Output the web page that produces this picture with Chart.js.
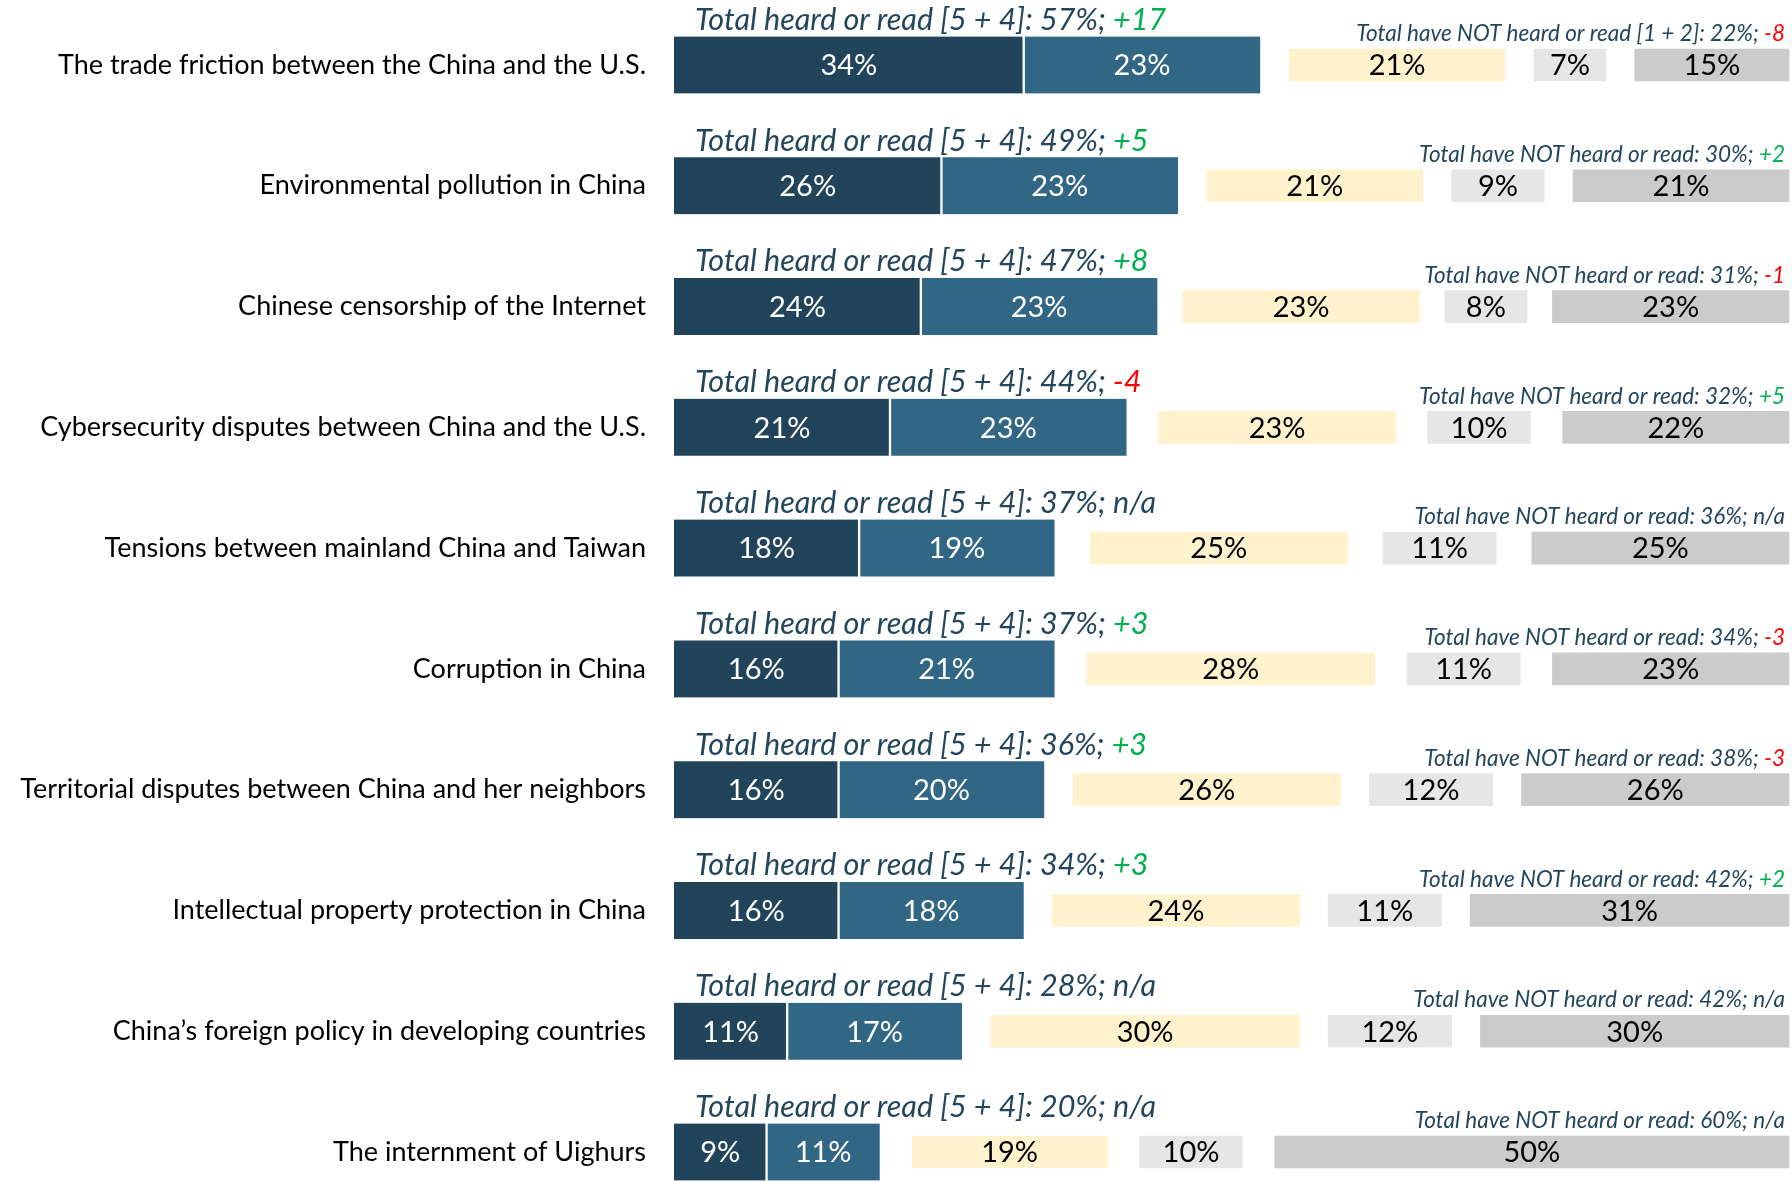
<!DOCTYPE html>
<html>
<head>
<meta charset="utf-8">
<script src="https://cdn.jsdelivr.net/npm/chart.js@4.4.0/dist/chart.umd.min.js"></script>
<style>
  html, body { margin: 0; padding: 0; background: #fff; }
  #wrap { width: 1792px; height: 1182px; }
</style>
</head>
<body>
<div id="wrap"><canvas id="chart" width="1792" height="1182"></canvas></div>
<script>
/* ---- data ---- */
const categories = [
  'The trade friction between the China and the U.S.',
  'Environmental pollution in China',
  'Chinese censorship of the Internet',
  'Cybersecurity disputes between China and the U.S.',
  'Tensions between mainland China and Taiwan',
  'Corruption in China',
  'Territorial disputes between China and her neighbors',
  'Intellectual property protection in China',
  'China\u2019s foreign policy in developing countries',
  'The internment of Uighurs',
];
const heard5    = [34, 26, 24, 21, 18, 16, 16, 16, 11, 9];
const heard4    = [23, 23, 23, 23, 19, 21, 20, 18, 17, 11];
const neutral3  = [21, 21, 23, 23, 25, 28, 26, 24, 30, 19];
const notHeard2 = [7, 9, 8, 10, 11, 11, 12, 11, 12, 10];
const notHeard1 = [15, 21, 23, 22, 25, 23, 26, 31, 30, 50];

const heardTotal     = [57, 49, 47, 44, 37, 37, 36, 34, 28, 20];
const heardChange    = ['+17', '+5', '+8', '-4', 'n/a', '+3', '+3', '+3', 'n/a', 'n/a'];
const notHeardTotal  = [22, 30, 31, 32, 36, 34, 38, 42, 42, 60];
const notHeardChange = ['-8', '+2', '-1', '+5', 'n/a', '-3', '-3', '+2', 'n/a', 'n/a'];

/* ---- layout / style ---- */
const TOTAL = 108.4;           // x-axis span incl. the three white gaps
const FONT = 'Lato, "Open Sans", sans-serif';
const C = {
  navy: '#22445b',
  steel: '#316684',
  yellow: '#fff2cc',
  light: '#e7e6e6',
  gray: '#cbcbcb',
  note: '#23465d',
  up: '#00b050',
  down: '#ff0000',
};

// invisible spacer between the blocks, so every row ends on the right edge
const gap = categories.map((_, i) =>
  (TOTAL - heard5[i] - heard4[i] - neutral3[i] - notHeard2[i] - notHeard1[i]) / 3);

function bar(data, color, thick, extra) {
  return Object.assign({
    data, backgroundColor: color, barThickness: thick,
    borderWidth: 0, borderSkipped: false, clip: false,
  }, extra || {});
}

const datasets = [
  bar(heard5, C.navy, 57, { labelColor: '#fff', borderColor: '#fff', borderWidth: { right: 1.5 } }),
  bar(heard4, C.steel, 57, { labelColor: '#fff', borderColor: '#fff', borderWidth: { left: 1.5 } }),
  bar(gap, 'rgba(0,0,0,0)', 32),
  bar(neutral3, C.yellow, 32, { labelColor: '#000' }),
  bar(gap, 'rgba(0,0,0,0)', 32),
  bar(notHeard2, C.light, 32, { labelColor: '#000' }),
  bar(gap, 'rgba(0,0,0,0)', 32),
  bar(notHeard1, C.gray, 32, { labelColor: '#000' }),
];

// percent labels centred in each visible bar
const valueLabels = {
  id: 'valueLabels',
  afterDatasetsDraw(chart) {
    const ctx = chart.ctx;
    ctx.save();
    ctx.font = '29px ' + FONT;
    ctx.textAlign = 'center';
    ctx.textBaseline = 'middle';
    chart.data.datasets.forEach((ds, di) => {
      if (!ds.labelColor) return;
      ctx.fillStyle = ds.labelColor;
      chart.getDatasetMeta(di).data.forEach((el, i) => {
        const p = el.getProps(['x', 'y', 'base'], true);
        ctx.fillText(ds.data[i] + '%', (p.x + p.base) / 2, p.y + 1);
      });
    });
    ctx.restore();
  },
};

function changeColor(s) {
  if (s[0] === '+') return C.up;
  if (s[0] === '-') return C.down;
  return C.note;
}

// "Total heard ..." / "Total have NOT heard ..." notes above each row
const notes = {
  id: 'notes',
  afterDraw(chart) {
    const ctx = chart.ctx;
    const xs = chart.scales.x, ys = chart.scales.y;
    ctx.save();
    ctx.textBaseline = 'middle';
    categories.forEach((_, i) => {
      const y = ys.getPixelForValue(i);

      // left note
      ctx.font = 'italic 30.5px ' + FONT;
      ctx.textAlign = 'left';
      const lhs = 'Total heard or read [5 + 4]: ' + heardTotal[i] + '%; ';
      let x = xs.getPixelForValue(0) + 21;
      ctx.fillStyle = C.note;
      ctx.fillText(lhs, x, y - 45);
      ctx.fillStyle = changeColor(heardChange[i]);
      ctx.fillText(heardChange[i], x + ctx.measureText(lhs).width, y - 45);

      // right note
      ctx.font = 'italic 22.5px ' + FONT;
      ctx.textAlign = 'right';
      const rhs = (i === 0 ? 'Total have NOT heard or read [1 + 2]: ' : 'Total have NOT heard or read: ')
        + notHeardTotal[i] + '%; ';
      x = xs.right - 4;
      ctx.fillStyle = changeColor(notHeardChange[i]);
      ctx.fillText(notHeardChange[i], x, y - 31);
      ctx.fillStyle = C.note;
      ctx.fillText(rhs, x - ctx.measureText(notHeardChange[i]).width, y - 31);
    });
    ctx.restore();
  },
};

new Chart(document.getElementById('chart').getContext('2d'), {
  type: 'bar',
  data: { labels: categories, datasets },
  plugins: [valueLabels, notes],
  options: {
    indexAxis: 'y',
    responsive: false,
    animation: false,
    devicePixelRatio: 1,
    layout: { padding: { top: 65, bottom: 30, left: 0, right: 3 } },
    plugins: { legend: { display: false }, tooltip: { enabled: false } },
    scales: {
      x: { stacked: true, min: 0, max: TOTAL, display: false },
      y: {
        stacked: true,
        offset: false,
        grid: { display: false, drawTicks: false },
        border: { display: false },
        ticks: { color: '#000', padding: 28, autoSkip: false, font: { family: FONT, size: 27 } },
        afterFit(scale) {
          scale.width = 674;
          scale.paddingTop = 0;
          scale.paddingBottom = 0;
        },
      },
    },
  },
});
</script>
</body>
</html>
